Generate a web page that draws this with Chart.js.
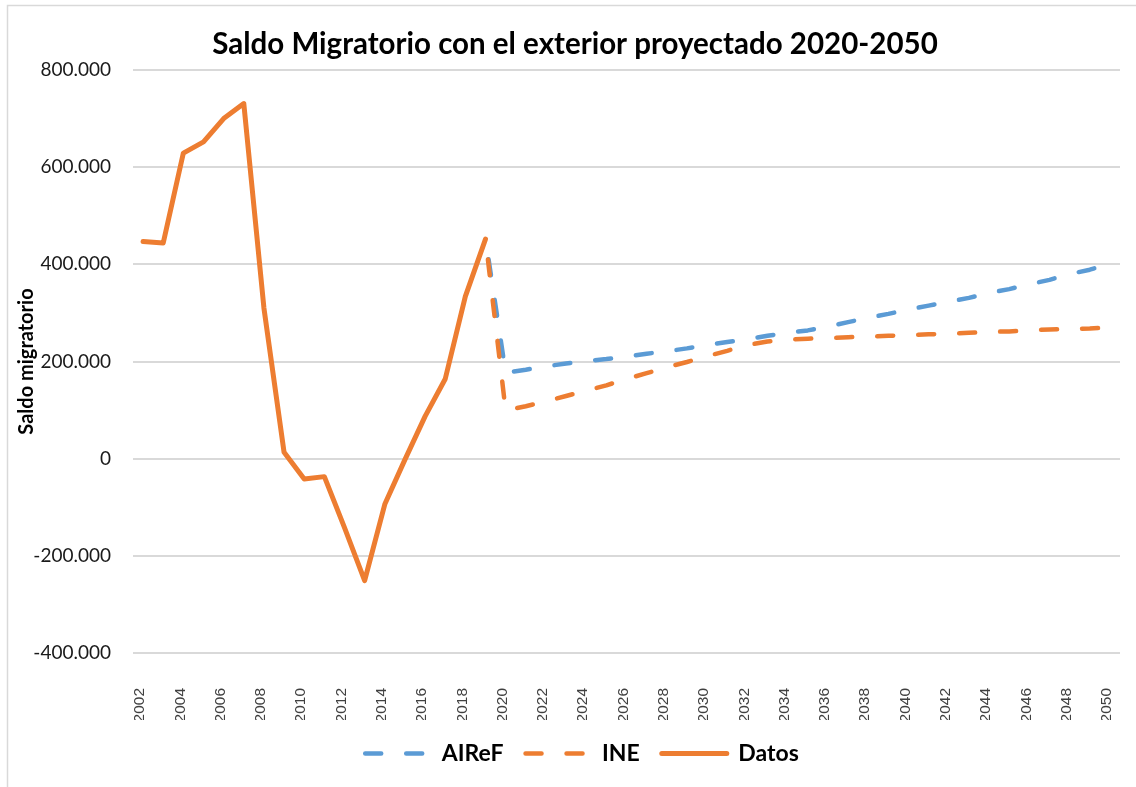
<!DOCTYPE html>
<html>
<head>
<meta charset="utf-8">
<script src="https://cdn.jsdelivr.net/npm/chart.js@4.4.1/dist/chart.umd.min.js"></script>
<style>
  html, body { margin: 0; padding: 0; background: #ffffff; }
  #wrap { position: relative; width: 1136px; height: 787px; }
</style>
</head>
<body>
<div id="wrap"><canvas id="c" width="1136" height="787"></canvas></div>
<script>
// ---- Data ----
const years = ['2002','2003','2004','2005','2006','2007','2008','2009','2010','2011','2012','2013','2014','2015','2016','2017','2018','2019',
  '2020','2021','2022','2023','2024','2025','2026','2027','2028','2029','2030','2031','2032','2033','2034','2035','2036','2037','2038','2039',
  '2040','2041','2042','2043','2044','2045','2046','2047','2048','2049','2050'];

const shownYearTicks = ['2002','2004','2006','2008','2010','2012','2014','2016','2018','2020','2022','2024','2026','2028','2030',
  '2032','2034','2036','2038','2040','2042','2044','2046','2048','2050'];

// Observed data 2002-2019
const datosValues = [447000, 444000, 629000, 652000, 700000, 731000, 310000, 13000, -42000, -37000, -142000, -251000,
  -94000, -2000, 87000, 164000, 334000, 452000];

// Projections 2019-2050 (start at last observed point)
const airefValues = [452000, 177000, 183000, 190000, 196000, 201000, 205000, 210000, 216000, 221000, 227000, 234000, 240000,
  246000, 253000, 259000, 264000, 272000, 281000, 290000, 298000, 307000, 315000, 323000, 331000, 341000, 349000, 359000,
  368000, 380000, 389000, 401000];
const ineValues = [452000, 99000, 108000, 118000, 129000, 140000, 151000, 164000, 176000, 188000, 199000, 211000, 222000,
  234000, 241000, 245000, 247000, 248000, 250000, 251000, 253000, 254000, 256000, 257000, 259000, 261000, 262000, 264000,
  266000, 267000, 268000, 270000];

const yTickValues = { min: -400000, max: 800000, step: 200000 };

// ---- Build series aligned to the category axis ----
const firstProjIndex = years.indexOf('2019');
function alignFrom(start, values) {
  const out = new Array(years.length).fill(null);
  values.forEach((v, i) => { out[start + i] = v; });
  return out;
}
const datosSeries = alignFrom(0, datosValues);
const airefSeries = alignFrom(firstProjIndex, airefValues);
const ineSeries = alignFrom(firstProjIndex, ineValues);

function fmtThousands(v) {
  if (v === 0) return '0';
  const s = Math.abs(v).toString().replace(/\B(?=(\d{3})+(?!\d))/g, '.');
  return (v < 0 ? '-' : '') + s;
}

const BLUE = '#5B9BD5';
const ORANGE = '#ED7D31';

const framePlugin = {
  id: 'frame',
  beforeDraw(chart) {
    const c = chart.ctx;
    c.save();
    c.fillStyle = '#ffffff';
    c.fillRect(0, 0, chart.width, chart.height);
    c.strokeStyle = '#d9d9d9';
    c.lineWidth = 1.5;
    c.beginPath();
    c.moveTo(7.5, chart.height);
    c.lineTo(7.5, 5.5);
    c.lineTo(chart.width, 5.5);
    c.stroke();
    c.restore();
  }
};

const shiftPlugin = {
  id: 'shiftBlocks',
  afterLayout(chart) {
    const t = chart.titleBlock;
    if (t) { t.left += 15; t.right += 15; }
    const l = chart.legend;
    if (l) { l.left += 22; l.right += 22; }
  }
};

const ctx = document.getElementById('c').getContext('2d');
new Chart(ctx, {
  type: 'line',
  data: {
    labels: years,
    datasets: [
      {
        label: 'AIReF', data: airefSeries, borderColor: BLUE, backgroundColor: BLUE,
        borderWidth: 4.5, borderDash: [16, 25], borderDashOffset: 20.5,
        borderCapStyle: 'round', borderJoinStyle: 'round', pointRadius: 0, tension: 0, fill: false, order: 3
      },
      {
        label: 'INE', data: ineSeries, borderColor: ORANGE, backgroundColor: ORANGE,
        borderWidth: 4.5, borderDash: [16, 25], borderDashOffset: 20.5,
        borderCapStyle: 'round', borderJoinStyle: 'round', pointRadius: 0, tension: 0, fill: false, order: 2
      },
      {
        label: 'Datos', data: datosSeries, borderColor: ORANGE, backgroundColor: ORANGE,
        borderWidth: 5, borderCapStyle: 'round', borderJoinStyle: 'round', pointRadius: 0, tension: 0, fill: false, order: 1
      }
    ]
  },
  options: {
    responsive: false,
    animation: false,
    devicePixelRatio: 1,
    layout: { padding: { left: 0, right: 16, top: 0, bottom: 12 } },
    plugins: {
      title: {
        display: true,
        text: 'Saldo Migratorio con el exterior proyectado 2020-2050',
        color: '#000000',
        font: { family: 'Lato', size: 29.5, weight: 'bold' },
        padding: { top: 27, bottom: 7.6 }
      },
      legend: {
        position: 'bottom',
        labels: {
          usePointStyle: true,
          pointStyle: 'line',
          pointStyleWidth: 65,
          padding: 22,
          color: '#000000',
          font: { family: 'Lato', size: 23, weight: 'bold' },
          sort: (a, b) => a.datasetIndex - b.datasetIndex,
          generateLabels(chart) {
            const items = Chart.defaults.plugins.legend.labels.generateLabels(chart);
            items.forEach(it => {
              const ds = chart.data.datasets[it.datasetIndex];
              it.lineDash = ds.borderDash || [];
              it.lineDashOffset = 0;
              it.lineCap = 'round';
              it.lineWidth = ds.borderWidth;
              it.strokeStyle = ds.borderColor;
              it.fillStyle = ds.borderColor;
            });
            return items;
          }
        }
      },
      tooltip: { enabled: false }
    },
    scales: {
      x: {
        offset: true,
        grid: { display: false, drawTicks: false },
        border: { display: false },
        ticks: {
          autoSkip: false, maxRotation: 90, minRotation: 90, padding: 35, labelOffset: -3,
          color: '#404040',
          font: { family: 'Liberation Sans', size: 15.5 },
          callback(value, index) { const y = years[index]; return shownYearTicks.includes(y) ? y : ''; }
        },
        afterFit(scale) { scale.height = 67; scale.paddingLeft = 0; scale.paddingRight = 0; }
      },
      y: {
        min: yTickValues.min, max: yTickValues.max,
        grid: { color: '#d9d9d9', lineWidth: 2, drawTicks: false },
        border: { display: false },
        ticks: {
          stepSize: yTickValues.step, padding: 22, color: '#1a1a1a',
          font: { family: 'Lato', size: 19 },
          callback: v => fmtThousands(v)
        },
        title: {
          display: true, text: 'Saldo migratorio', color: '#000000',
          font: { family: 'Lato', size: 20, weight: 'bold' },
          padding: { top: 15, bottom: 0 }
        },
        afterFit(scale) { scale.width = 133; scale.paddingTop = 0; scale.paddingBottom = 0; }
      }
    }
  },
  plugins: [framePlugin, shiftPlugin]
});
</script>
</body>
</html>
